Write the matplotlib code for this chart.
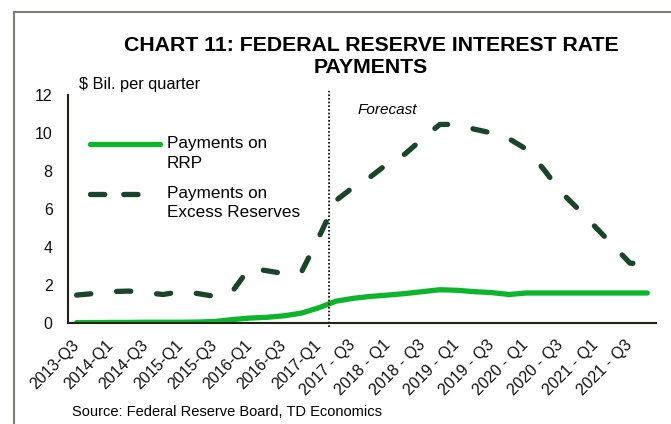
import matplotlib.pyplot as plt
from matplotlib.lines import Line2D

plt.rcParams['font.family'] = ['Liberation Sans', 'DejaVu Sans']

# quarters 2013-Q3 .. 2021-Q4
quarters = ["2013-Q3", "2013-Q4", "2014-Q1", "2014-Q2", "2014-Q3", "2014-Q4",
            "2015-Q1", "2015-Q2", "2015-Q3", "2015-Q4", "2016-Q1", "2016-Q2",
            "2016-Q3", "2016-Q4", "2017-Q1", "2017 - Q2", "2017 - Q3", "2017 - Q4",
            "2018 - Q1", "2018 - Q2", "2018 - Q3", "2018 - Q4", "2019 - Q1", "2019 - Q2",
            "2019 - Q3", "2019 - Q4", "2020 - Q1", "2020 - Q2", "2020 - Q3", "2020 - Q4",
            "2021 - Q1", "2021 - Q2", "2021 - Q3", "2021 - Q4"]

rrp = [0.02, 0.02, 0.03, 0.03, 0.04, 0.04, 0.04, 0.05, 0.08, 0.18, 0.26, 0.3,
       0.38, 0.52, 0.8, 1.15, 1.3, 1.4, 1.47, 1.55, 1.65, 1.75, 1.72, 1.65,
       1.6, 1.5, 1.58, 1.58, 1.58, 1.58, 1.58, 1.58, 1.58, 1.58]

excess = [1.47, 1.55, 1.65, 1.68, 1.6, 1.5, 1.65, 1.55, 1.4, 1.65, 2.9, 2.75,
          2.6, 2.68, 4.5, 6.45, 7.15, 7.7, 8.4, 8.9, 9.7, 10.45, 10.45, 10.2,
          10.0, 9.7, 9.15, 8.1, 6.9, 6.0, 5.05, 4.1, 3.15, 3.1]

series_names = ["Payments on\nRRP", "Payments on\nExcess Reserves"]
forecast_start = 14.6

green = "#0cb52c"
dark = "#1b4528"
dash = (2.7, 4.9)

fig = plt.figure(figsize=(6.71, 4.24), dpi=100)
ax = fig.add_axes([0.1013, 0.2382, 0.8763, 0.5378])

x = list(range(len(quarters)))
ax.plot(x, rrp, color=green, lw=3.8, solid_capstyle="round")
ax.plot(x, excess, color=dark, lw=3.8, dashes=dash, dash_capstyle="round")
ax.plot([forecast_start, forecast_start], [-0.2, 12.2], color="black", lw=1.2,
        ls=(0, (1, 1.2)), clip_on=False)

ax.set_xlim(-0.5, len(quarters) - 0.5)
ax.set_ylim(0, 12)
ax.set_yticks(range(0, 13, 2))
ax.set_xticks(x[::2])
ax.set_xticklabels(quarters[::2], rotation=45, ha="right", va="center",
                   rotation_mode="anchor")
ax.tick_params(axis="both", length=0, labelsize=11.5, colors="#111111")
ax.tick_params(axis="y", pad=11)
ax.tick_params(axis="x", pad=14)
for side in ["top", "right"]:
    ax.spines[side].set_visible(False)
for side in ["left", "bottom"]:
    ax.spines[side].set_color("#1f2414")
    ax.spines[side].set_linewidth(1.5)

# legend (handles sit on the first text line, like the original)
ax.plot([0.037, 0.156], [0.785, 0.785], transform=ax.transAxes, color=green, lw=3.8,
        solid_capstyle="round")
ax.plot([0.037, 0.14], [0.566, 0.566], transform=ax.transAxes, color=dark, lw=3.8,
        dashes=(2.7, 3.6), dash_capstyle="round")
ax.text(0.168, 0.743, series_names[0], transform=ax.transAxes, fontsize=12.3,
        va="center", linespacing=1.38)
ax.text(0.168, 0.526, series_names[1], transform=ax.transAxes, fontsize=12.3,
        va="center", linespacing=1.38)

ax.text(0.493, 0.965, "Forecast", transform=ax.transAxes, style="italic", fontsize=11,
        va="top")

fig.text(0.553, 0.867, "CHART 11: FEDERAL RESERVE INTEREST RATE\nPAYMENTS", ha="center",
         va="center", fontsize=15.3, fontweight="bold", linespacing=1.17)
fig.text(0.118, 0.80, "$ Bil. per quarter", fontsize=11.8, va="center")
fig.text(0.107, 0.028, "Source: Federal Reserve Board, TD Economics", fontsize=10.5,
         va="center")

# outer frame
fig.add_artist(Line2D([0.021, 0.021], [0, 0.972], color="#7f7f72", lw=1.5))
fig.add_artist(Line2D([0.021, 1.0], [0.972, 0.972], color="#7f7f72", lw=1.5))

fig.savefig("out.png", dpi=100)
